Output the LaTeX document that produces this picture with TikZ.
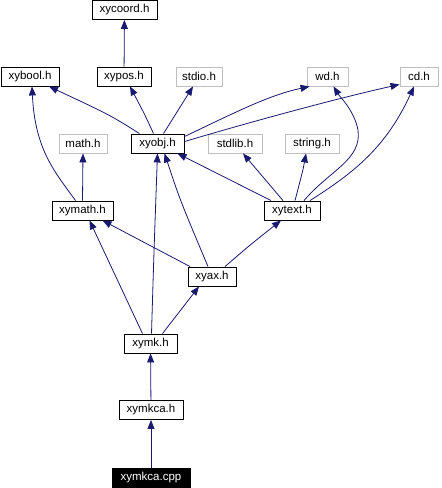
\documentclass[tikz,border=0pt]{standalone}
\usepackage{fontspec}
\setmainfont{Liberation Sans}
\usetikzlibrary{arrows.meta,calc}
\definecolor{edgeblue}{HTML}{191970}
\definecolor{boxgray}{HTML}{BFBFBF}
\begin{document}
\begin{tikzpicture}[x=1pt,y=-1pt,
  box/.style={draw=black,line width=0.9pt,minimum height=19pt,inner sep=0pt,font=\fontsize{11.5}{13}\selectfont,text=black},
  gbox/.style={box,draw=boxgray},
  rbox/.style={box,fill=black,text=white},
  e/.style={draw=edgeblue,line width=0.8pt,-{Triangle[length=9pt,width=7pt]}}]
\useasboundingbox (0,0) rectangle (442,488);
\node[box,minimum width=65pt] (xycoord) at (124.5,10) {xycoord.h};
\node[box,minimum width=54pt] (xypos) at (124,76.5) {xypos.h};
\node[box,minimum width=58pt] (xybool) at (30,76.5) {xybool.h};
\node[gbox,minimum width=46pt] (stdio) at (199,76.5) {stdio.h};
\node[gbox,minimum width=41pt] (wd) at (327.5,76.5) {wd.h};
\node[gbox,minimum width=38pt] (cd) at (419,76.5) {cd.h};
\node[gbox,minimum width=48pt] (math) at (83,143.5) {math.h};
\node[box,minimum width=53pt] (xyobj) at (157.5,143.5) {xyobj.h};
\node[gbox,minimum width=54pt] (stdlib) at (235,143.5) {stdlib.h};
\node[gbox,minimum width=54pt] (string) at (312,143.5) {string.h};
\node[box,minimum width=61pt] (xymath) at (82.5,210.5) {xymath.h};
\node[box,minimum width=56pt] (xytext) at (292,210.5) {xytext.h};
\node[box,minimum width=48pt] (xyax) at (212,276.5) {xyax.h};
\node[box,minimum width=53pt] (xymk) at (150.5,343.5) {xymk.h};
\node[box,minimum width=64pt] (xymkcah) at (151,410) {xymkca.h};
\node[rbox,minimum width=78pt] (xymkcacpp) at (151,477.5) {xymkca.cpp};
% edges
\draw[e] (xypos) -- (xycoord);
\draw[e] ([xshift=-18pt]xyobj.north) .. controls (110,115) .. ([xshift=19pt]xybool.south);
\draw[e] ([xshift=-4pt]xyobj.north) .. controls (145,115) .. ([xshift=6pt]xypos.south);
\draw[e] ([xshift=6pt]xyobj.north) -- ([xshift=-6pt]stdio.south);
\draw[e] ([yshift=-3pt]xyobj.north east) .. controls (240,110) and (270,95) .. ([xshift=3pt]wd.south west);
\draw[e] ([yshift=-8pt]xyobj.north east) .. controls (240,125) and (330,100) .. ([yshift=2pt]cd.south west);
\draw[e] ([xshift=-21pt]xytext.north) -- ([xshift=20pt]xyobj.south);
\draw[e] ([xshift=-9pt]xytext.north) -- ([xshift=8pt]stdlib.south);
\draw[e] ([xshift=3pt]xytext.north) .. controls (303,170) .. ([xshift=-6pt]string.south);
\draw[e] ([xshift=12pt]xytext.north) .. controls (330,170) and (362,160) .. (358,130) .. controls (354,110) and (340,97) .. ([xshift=6pt]wd.south);
\draw[e] ([xshift=18pt]xytext.north) .. controls (350,175) and (385,150) .. ([xshift=-5pt]cd.south);
\draw[e] (xymath.north) -- (math.south);
\draw[e] ([xshift=-7pt]xymath.north) .. controls (55,172) and (35,150) .. ([xshift=2pt]xybool.south);
\draw[e] ([xshift=-22pt]xyax.north) -- ([xshift=20pt]xymath.south);
\draw[e] ([xshift=-4pt]xyax.north) .. controls (180,200) .. ([xshift=7pt]xyobj.south);
\draw[e] ([xshift=13pt]xyax.north) .. controls (250,245) .. ([xshift=-11pt]xytext.south);
\draw[e] ([xshift=-8pt]xymk.north) -- ([xshift=7pt]xymath.south);
\draw[e] ([xshift=1pt]xymk.north) .. controls (154,250) .. ([xshift=0pt]xyobj.south);
\draw[e] ([xshift=12pt]xymk.north) -- ([xshift=-13pt]xyax.south);
\draw[e] (xymkcah) -- (xymk);
\draw[e] (xymkcacpp) -- (xymkcah);
\end{tikzpicture}
\end{document}
